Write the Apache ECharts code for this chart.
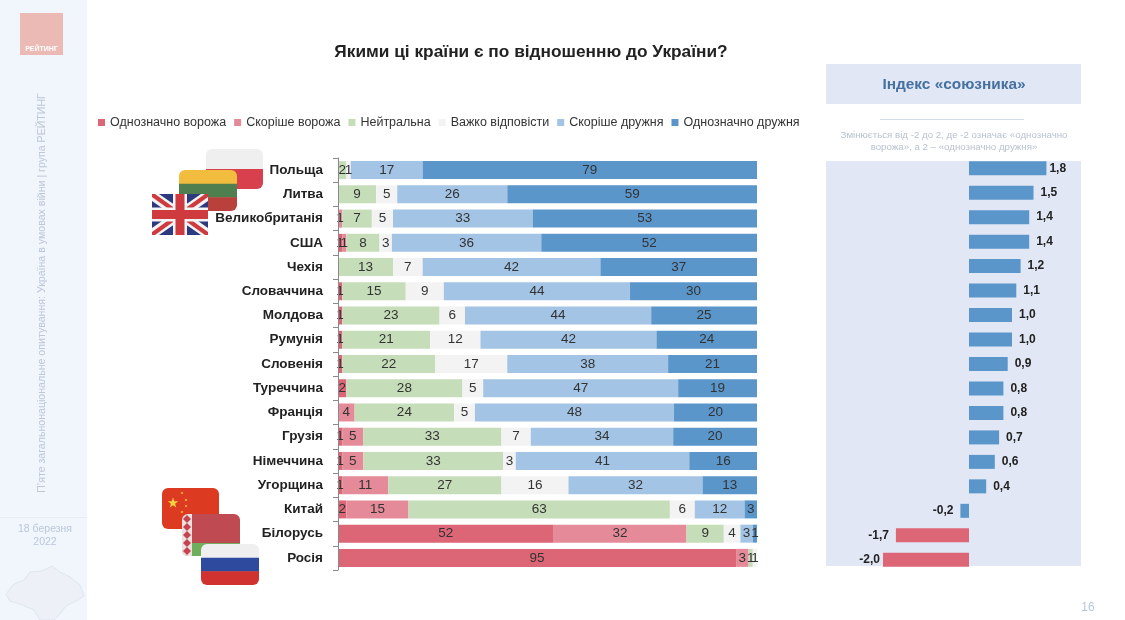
<!DOCTYPE html>
<html lang="uk">
<head>
<meta charset="UTF-8">
<title>Індекс союзника</title>
<style>
  html, body { margin: 0; padding: 0; background: #fff; }
  #main { width: 1125px; height: 620px; }
</style>
<script src="https://cdn.jsdelivr.net/npm/echarts@6/dist/echarts.min.js"></script>
</head>
<body>
<div id="main"></div>
<script>
// data
const countries = ['Польща', 'Литва', 'Великобританія', 'США', 'Чехія', 'Словаччина', 'Молдова', 'Румунія', 'Словенія', 'Туреччина', 'Франція', 'Грузія', 'Німеччина', 'Угорщина', 'Китай', 'Білорусь', 'Росія'];
const definitelyHostile = [0, 0, 0, 1, 0, 1, 1, 1, 1, 2, 0, 1, 1, 1, 2, 52, 95];
const ratherHostile     = [0, 0, 1, 1, 0, 0, 0, 0, 0, 0, 4, 5, 5, 11, 15, 32, 3];
const neutral           = [2, 9, 7, 8, 13, 15, 23, 21, 22, 28, 24, 33, 33, 27, 63, 9, 1];
const hardToSay         = [1, 5, 5, 3, 7, 9, 6, 12, 17, 5, 5, 7, 3, 16, 6, 4, 1];
const ratherFriendly    = [17, 26, 33, 36, 42, 44, 44, 42, 38, 47, 48, 34, 41, 32, 12, 3, 0];
const definitelyFriendly = [79, 59, 53, 52, 37, 30, 25, 24, 21, 19, 20, 20, 16, 13, 3, 1, 0];
const allyIndex = [1.8, 1.5, 1.4, 1.4, 1.2, 1.1, 1.0, 1.0, 0.9, 0.8, 0.8, 0.7, 0.6, 0.4, -0.2, -1.7, -2.0];

const answers = [
  { name: 'Однозначно ворожа', values: definitelyHostile, color: '#dc6576' },
  { name: 'Скоріше ворожа', values: ratherHostile, color: '#e58a98' },
  { name: 'Нейтральна', values: neutral, color: '#c6ddb9' },
  { name: 'Важко відповісти', values: hardToSay, color: '#f3f3f3' },
  { name: 'Скоріше дружня', values: ratherFriendly, color: '#a3c4e4' },
  { name: 'Однозначно дружня', values: definitelyFriendly, color: '#5b96cb' }
];

const FONT = '"Liberation Sans", Arial, sans-serif';
const rowTotals = countries.map((c, i) => answers.reduce((sum, a) => sum + a.values[i], 0));

// the source bars are 100% stacked, rows that sum to 99 or 101 still fill the width
const stackSeries = answers.map(a => ({
  name: a.name,
  type: 'bar',
  stack: 'answers',
  xAxisIndex: 0,
  yAxisIndex: 0,
  barWidth: 18,
  itemStyle: { color: a.color },
  label: {
    show: true,
    position: 'inside',
    fontFamily: FONT,
    fontSize: 13.5,
    color: '#333',
    formatter: p => a.values[p.dataIndex] > 0 ? a.values[p.dataIndex] : ''
  },
  data: a.values.map((v, i) => v / rowTotals[i] * 100)
}));

const indexSeries = {
  name: 'Індекс',
  type: 'bar',
  xAxisIndex: 1,
  yAxisIndex: 1,
  barWidth: 14,
  label: {
    show: true,
    fontFamily: FONT,
    fontSize: 12,
    fontWeight: 'bold',
    color: '#222',
    formatter: p => p.value.toFixed(1).replace('.', ',')
  },
  data: allyIndex.map(v => ({
    value: v,
    itemStyle: { color: v <= -1 ? '#dc6576' : '#5b96cb' },
    // the two longest bars have their labels pushed tight against the bar
    label: { position: v < 0 ? 'left' : 'right', distance: Math.abs(v) >= 1.8 ? 3 : 7 }
  }))
};

// decoration helpers: flags, sidebar
function rect(x, y, w, h, fill, r) {
  return { type: 'rect', shape: { x, y, width: w, height: h, r: r || 0 }, style: { fill }, silent: true };
}
function poly(points, fill, stroke) {
  return { type: 'polygon', shape: { points }, style: { fill, stroke: stroke || null, lineWidth: 1 }, silent: true };
}
function label(x, y, text, size, fill, extra) {
  const bold = extra && extra.bold;
  const el = {
    type: 'text', x, y, silent: true,
    style: { text, fontFamily: FONT, fontSize: size, fontWeight: bold ? 'bold' : 'normal', fill, align: 'center', verticalAlign: 'middle' }
  };
  if (extra && extra.rotation) el.rotation = extra.rotation;
  return el;
}
function star(cx, cy, R, fill) {
  const pts = [];
  for (let i = 0; i < 10; i++) {
    const rr = i % 2 ? R * 0.4 : R;
    const a = -Math.PI / 2 + i * Math.PI / 5;
    pts.push([cx + rr * Math.cos(a), cy + rr * Math.sin(a)]);
  }
  return poly(pts, fill);
}
function bands(x, y, w, h, colors) {
  const bh = h / colors.length;
  return colors.map((c, i) => rect(x, y + i * bh, w, bh + (i < colors.length - 1 ? 0.5 : 0), c,
    i === 0 ? [6, 6, 0, 0] : i === colors.length - 1 ? [0, 0, 6, 6] : 0));
}
function unionJack(x, y, w, h) {
  const x1 = x + w, y1 = y + h, d = 7, t = 3;
  const cx = x + w / 2, cy = y + h / 2;
  return [
    rect(x, y, w, h, '#2c3b80', 5),
    poly([[x, y], [x + d, y], [x1, y1 - d], [x1, y1], [x1 - d, y1], [x, y + d]], '#f4f4f4'),
    poly([[x1, y], [x1 - d, y], [x, y1 - d], [x, y1], [x + d, y1], [x1, y + d]], '#f4f4f4'),
    poly([[x, y], [x + t, y], [x1, y1 - t], [x1, y1], [x1 - t, y1], [x, y + t]], '#cf3a3f'),
    poly([[x1, y], [x1 - t, y], [x, y1 - t], [x, y1], [x + t, y1], [x1, y + t]], '#cf3a3f'),
    rect(cx - 7, y, 14, h, '#f4f4f4'),
    rect(x, cy - 7, w, 14, '#f4f4f4'),
    rect(cx - 4.5, y, 9, h, '#cf3a3f'),
    rect(x, cy - 4.5, w, 9, '#cf3a3f')
  ];
}

const ukraine = [[6, 594], [14, 584], [24, 580], [30, 572], [42, 571], [52, 566], [60, 572], [70, 577], [80, 585], [84, 596], [74, 602], [66, 606], [60, 614], [54, 620], [40, 620], [34, 610], [20, 604], [10, 601]];

const decorations = [
  // sidebar
  rect(0, 0, 87, 620, '#f1f5fc'),
  rect(20, 13, 43, 42, '#ecbab5'),
  label(41.5, 49.5, 'РЕЙТИНГ', 7, '#fff', { bold: true }),
  label(42, 293, 'П’яте загальнонаціональне опитування: Україна в умовах війни | група РЕЙТИНГ', 10.6, '#bcc7d8', { rotation: Math.PI / 2 }),
  rect(0, 517, 87, 1, '#e6ebf4'),
  label(45, 529, '18 березня', 10.5, '#bcc7d8'),
  label(45, 542, '2022', 10.5, '#bcc7d8'),
  poly(ukraine, '#edf1f7', '#dfe6ef'),

  // title and right panel
  label(531, 52, 'Якими ці країни є по відношенню до України?', 17.3, '#222', { bold: true }),
  rect(826, 64, 255, 40, '#e1e7f5'),
  label(954, 85, 'Індекс «союзника»', 15.4, '#44719f', { bold: true }),
  rect(880, 119, 144, 1, '#cfdcea'),
  label(954, 135, 'Змінюється від -2 до 2, де -2 означає «однозначно', 9.7, '#b9c2ce'),
  label(954, 147, 'ворожа», а 2 – «однозначно дружня»', 9.7, '#b9c2ce'),
  rect(826, 161, 255, 405, '#e2e7f5'),
  label(1088, 608, '16', 12, '#b5c6dc'),

  // flags, back to front
  ...bands(206, 149, 57, 40, ['#efefef', '#d8404e']),
  ...bands(179, 170, 58, 41, ['#f2bc3e', '#4f7f4e', '#b9403b']),
  ...unionJack(152, 194, 56, 41),
  rect(162, 488, 57, 41, '#dd3a22', 6),
  star(173, 503, 5.5, '#f8d23c'),
  star(182, 493, 1.6, '#f8d23c'),
  star(186, 500, 1.6, '#f8d23c'),
  star(186, 506, 1.6, '#f8d23c'),
  star(182, 512, 1.6, '#f8d23c'),
  rect(182, 514, 58, 42, '#bf4a52', 6),
  rect(192, 543, 48, 13, '#6fae5a', [0, 0, 6, 0]),
  rect(182, 514, 10, 42, '#eee0e0', [6, 0, 0, 6]),
  ...[519, 527, 535, 543, 551].map(y => poly([[187, y - 4], [191, y], [187, y + 4], [183, y]], '#c4434e')),
  ...bands(201, 544, 58, 41, ['#efefef', '#2d4a9e', '#d0332f'])
];

const option = {
  animation: false,
  backgroundColor: '#fff',
  graphic: { elements: decorations },
  legend: {
    left: 93,
    top: 111,
    icon: 'rect',
    itemWidth: 7,
    itemHeight: 7,
    itemGap: 8,
    selectedMode: false,
    data: answers.map(a => a.name),
    textStyle: { fontFamily: FONT, fontSize: 12.5, color: '#333' }
  },
  grid: [
    { left: 338, width: 419, top: 158, height: 412 },
    { left: 840, width: 258, top: 156, height: 416 }
  ],
  xAxis: [
    { gridIndex: 0, type: 'value', min: 0, max: 100, show: false },
    { gridIndex: 1, type: 'value', min: -3, max: 3, show: false }
  ],
  yAxis: [
    {
      gridIndex: 0,
      type: 'category',
      inverse: true,
      data: countries,
      z: 5,
      axisLine: { show: true, lineStyle: { color: '#8a8a8a' } },
      axisTick: { show: true, length: 5, alignWithLabel: false, lineStyle: { color: '#8a8a8a' } },
      axisLabel: { margin: 15, fontFamily: FONT, fontSize: 13.5, fontWeight: 'bold', color: '#222', interval: 0 }
    },
    { gridIndex: 1, type: 'category', inverse: true, data: countries, show: false }
  ],
  series: [...stackSeries, indexSeries]
};

const chart = echarts.init(document.getElementById('main'));
chart.setOption(option);
</script>
</body>
</html>
